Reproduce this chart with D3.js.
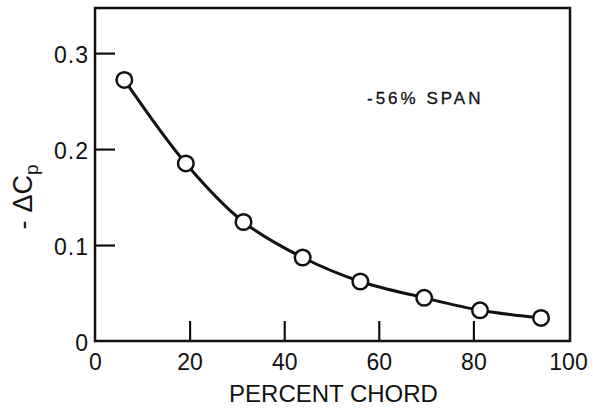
<!DOCTYPE html>
<html lang="en">
  <head>
    <meta charset="UTF-8" />
    <script src="https://cdnjs.cloudflare.com/ajax/libs/d3/7.8.5/d3.min.js"></script>
    <title>Pressure coefficient vs chord</title>
    <style>
      body {
        margin: 0;
        background: white;
      }
      text {
        font-family: "Liberation Sans", Arial, sans-serif;
        fill: #111;
      }
      .tick text {
        font-size: 23px;
      }
    </style>
  </head>
  <body>
    <script>
      // values
      const chord = [6.2, 19.2, 31.4, 43.9, 56.1, 69.6, 81.4, 94.3];
      const deltaCp = [0.272, 0.185, 0.124, 0.087, 0.062, 0.045, 0.032, 0.024];
      const xTicks = [0, 20, 40, 60, 80, 100];
      const yTicks = [0, 0.1, 0.2, 0.3];

      const width = 593,
        height = 413;
      const plotLeft = 95,
        plotRight = 570,
        plotTop = 8,
        plotBottom = 341;

      const svg = d3
        .select("body")
        .append("svg")
        .attr("width", width)
        .attr("height", height);

      const x = d3.scaleLinear().domain([0, 100]).range([plotLeft, 568]);
      const y = d3.scaleLinear().domain([0, 0.347]).range([plotBottom, plotTop]);

      // frame
      svg
        .append("rect")
        .attr("x", plotLeft)
        .attr("y", plotTop)
        .attr("width", plotRight - plotLeft)
        .attr("height", plotBottom - plotTop)
        .attr("fill", "none")
        .attr("stroke", "#111")
        .attr("stroke-width", 2.5);

      const xAxis = svg
        .append("g")
        .attr("transform", `translate(0,${plotBottom})`)
        .call(
          d3
            .axisBottom(x)
            .tickValues(xTicks)
            .tickSize(-20)
            .tickPadding(8)
            .tickFormat(d3.format("d"))
        );
      xAxis.select(".domain").remove();
      xAxis.selectAll(".tick line").attr("stroke", "#111").attr("stroke-width", 2.2);
      xAxis.selectAll(".tick text").attr("dy", "0.9em").attr("fill", "#111");
      xAxis
        .selectAll(".tick")
        .filter((d) => d === 0 || d === 100)
        .select("line")
        .remove();

      const yAxis = svg
        .append("g")
        .attr("transform", `translate(${plotLeft},0)`)
        .call(
          d3
            .axisLeft(y)
            .tickValues(yTicks)
            .tickSize(-20)
            .tickPadding(6)
            .tickFormat((d) => (d === 0 ? "0" : d3.format(".1f")(d)))
        );
      yAxis.select(".domain").remove();
      yAxis.selectAll(".tick line").attr("stroke", "#111").attr("stroke-width", 2.2);
      yAxis
        .selectAll(".tick text")
        .attr("fill", "#111")
        .attr("dy", "0.42em")
        .style("letter-spacing", "1px");
      yAxis
        .selectAll(".tick")
        .filter((d) => d === 0)
        .select("line")
        .remove();

      // curve
      const pts = chord.map((c, i) => [c, deltaCp[i]]);
      const line = d3
        .line()
        .x((d) => x(d[0]))
        .y((d) => y(d[1]))
        .curve(d3.curveCatmullRom.alpha(0.5));

      svg
        .append("path")
        .datum(pts)
        .attr("d", line)
        .attr("fill", "none")
        .attr("stroke", "#111")
        .attr("stroke-width", 3);

      svg
        .append("g")
        .selectAll("circle")
        .data(pts)
        .join("circle")
        .attr("cx", (d) => x(d[0]))
        .attr("cy", (d) => y(d[1]))
        .attr("r", 7.8)
        .attr("fill", "white")
        .attr("stroke", "#111")
        .attr("stroke-width", 2.5);

      // labels
      svg
        .append("text")
        .attr("x", (plotLeft + plotRight) / 2 + 1)
        .attr("y", 402)
        .attr("text-anchor", "middle")
        .style("font-size", "24px")
        .text("PERCENT CHORD");

      svg
        .append("text")
        .attr("x", 367)
        .attr("y", 104)
        .style("font-size", "17px")
        .style("letter-spacing", "3px")
        .style("stroke", "#111")
        .style("stroke-width", 0.3)
        .text("-56% SPAN");

      const yTitle = svg
        .append("text")
        .attr("transform", "translate(32,197) rotate(-90)")
        .attr("text-anchor", "middle")
        .style("font-size", "27px");
      yTitle.append("tspan").text("-");
      yTitle.append("tspan").attr("dx", 8).text("ΔC");
      yTitle
        .append("tspan")
        .attr("dy", 6)
        .style("font-size", "19px")
        .text("p");
    </script>
  </body>
</html>
